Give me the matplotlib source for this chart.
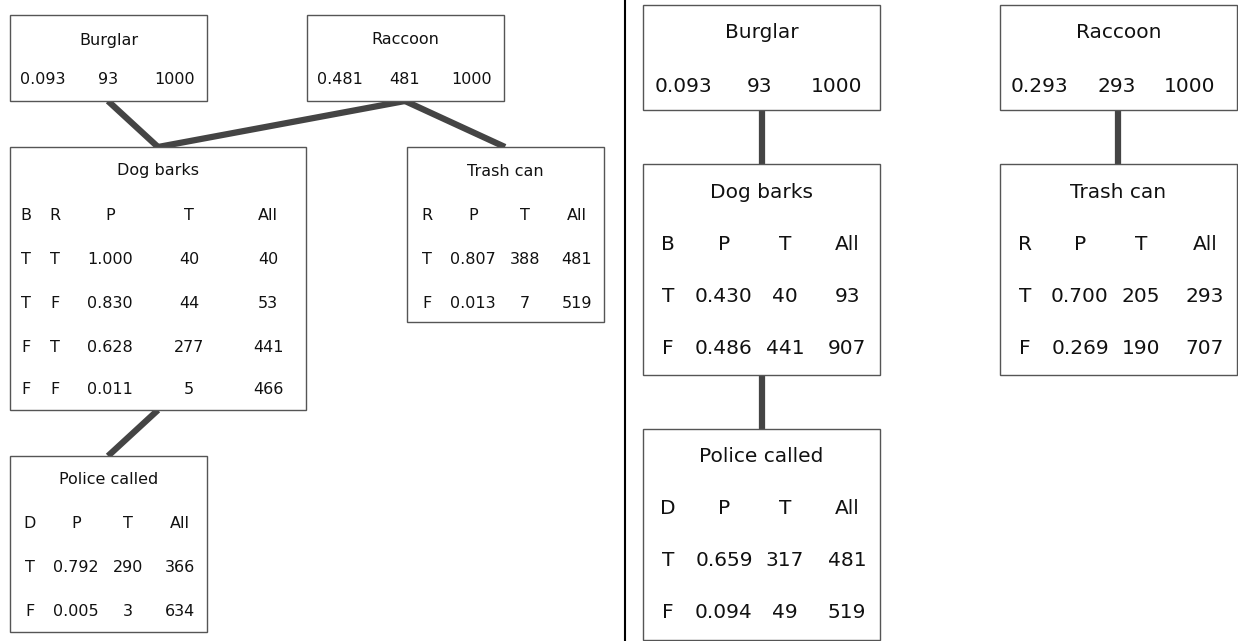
import matplotlib
matplotlib.use("Agg")
import matplotlib.pyplot as plt
from matplotlib.patches import Rectangle

# ---- left network (burglar + raccoon) ----
burglar_l = [0.093, 93, 1000]
raccoon_l = [0.481, 481, 1000]

dog_l_b = ["T", "T", "F", "F"]
dog_l_r = ["T", "F", "T", "F"]
dog_l_p = [1.000, 0.830, 0.628, 0.011]
dog_l_t = [40, 44, 277, 5]
dog_l_all = [40, 53, 441, 466]

trash_l_r = ["T", "F"]
trash_l_p = [0.807, 0.013]
trash_l_t = [388, 7]
trash_l_all = [481, 519]

police_l_d = ["T", "F"]
police_l_p = [0.792, 0.005]
police_l_t = [290, 3]
police_l_all = [366, 634]

# ---- right network (two independent chains) ----
burglar_r = [0.093, 93, 1000]
raccoon_r = [0.293, 293, 1000]

dog_r_b = ["T", "F"]
dog_r_p = [0.430, 0.486]
dog_r_t = [40, 441]
dog_r_all = [93, 907]

trash_r_r = ["T", "F"]
trash_r_p = [0.700, 0.269]
trash_r_t = [205, 190]
trash_r_all = [293, 707]

police_r_d = ["T", "F"]
police_r_p = [0.659, 0.094]
police_r_t = [317, 49]
police_r_all = [481, 519]

W, H = 1238, 641
fig = plt.figure(figsize=(W / 100, H / 100), dpi=100)
ax = fig.add_axes([0, 0, 1, 1])
ax.set_xlim(0, W)
ax.set_ylim(H, 0)
ax.axis("off")

FONT = "DejaVu Sans"
BOX_EC = "#555555"
LINK = "#444444"


def box(x0, y0, x1, y1):
    ax.add_patch(Rectangle((x0, y0), x1 - x0, y1 - y0, facecolor="white",
                           edgecolor=BOX_EC, linewidth=1.0, zorder=2))


def txt(x, y, s, fs):
    ax.text(x, y, s, ha="center", va="center", fontsize=fs,
            family=FONT, color="#111111", zorder=3)


def link(p, q):
    ax.plot([p[0], q[0]], [p[1], q[1]], color=LINK, linewidth=4.5,
            solid_capstyle="butt", zorder=1)


def prior(x0, y0, x1, y1, title, vals, ty, vy, xs, fs):
    box(x0, y0, x1, y1)
    txt((x0 + x1) / 2, ty, title, fs)
    txt(xs[0], vy, "%.3f" % vals[0], fs)
    txt(xs[1], vy, str(vals[1]), fs)
    txt(xs[2], vy, str(vals[2]), fs)


def table(x0, y0, x1, y1, title, ty, heads, cols, xs, ys, fs):
    box(x0, y0, x1, y1)
    txt((x0 + x1) / 2, ty, title, fs)
    for h, x in zip(heads, xs):
        txt(x, ys[0], h, fs)
    for c, x in zip(cols, xs):
        for v, y in zip(c, ys[1:]):
            s = "%.3f" % v if isinstance(v, float) else str(v)
            txt(x, y, s, fs)


# ---------------- left panel ----------------
fs = 11.5
link((108, 101), (158, 147))
link((405, 101), (158, 147))
link((405, 101), (505, 147))
link((158, 410), (108, 456))

prior(10, 15, 207, 101, "Burglar", burglar_l, 40, 80, [43, 108, 175], fs)
prior(307, 15, 504, 101, "Raccoon", raccoon_l, 40, 80, [340, 405, 472], fs)

table(10, 147, 306, 410, "Dog barks", 171, ["B", "R", "P", "T", "All"],
      [dog_l_b, dog_l_r, dog_l_p, dog_l_t, dog_l_all],
      [26, 55, 110, 189, 268], [215, 259, 303, 347, 390], fs)
table(407, 147, 604, 322, "Trash can", 171, ["R", "P", "T", "All"],
      [trash_l_r, trash_l_p, trash_l_t, trash_l_all],
      [427, 473, 525, 577], [215, 259, 303], fs)
table(10, 456, 207, 632, "Police called", 480, ["D", "P", "T", "All"],
      [police_l_d, police_l_p, police_l_t, police_l_all],
      [30, 76, 128, 180], [523, 567, 611], fs)

# divider
ax.plot([625, 625], [0, H], color="black", linewidth=1.5, zorder=1)

# ---------------- right panel ----------------
fs = 14.5
link((762, 110), (762, 164))
link((762, 375), (762, 429))
link((1118, 110), (1118, 164))

prior(643, 5, 880, 110, "Burglar", burglar_r, 33, 86, [683, 760, 837], fs)
prior(1000, 5, 1237, 110, "Raccoon", raccoon_r, 33, 86, [1039, 1117, 1190], fs)

table(643, 164, 880, 375, "Dog barks", 192, ["B", "P", "T", "All"],
      [dog_r_b, dog_r_p, dog_r_t, dog_r_all],
      [668, 724, 785, 847], [244, 296, 348], fs)
table(643, 429, 880, 640, "Police called", 457, ["D", "P", "T", "All"],
      [police_r_d, police_r_p, police_r_t, police_r_all],
      [668, 724, 785, 847], [509, 561, 613], fs)
table(1000, 164, 1237, 375, "Trash can", 192, ["R", "P", "T", "All"],
      [trash_r_r, trash_r_p, trash_r_t, trash_r_all],
      [1025, 1080, 1141, 1205], [244, 296, 348], fs)

fig.savefig("out.png", dpi=100, facecolor="white")
